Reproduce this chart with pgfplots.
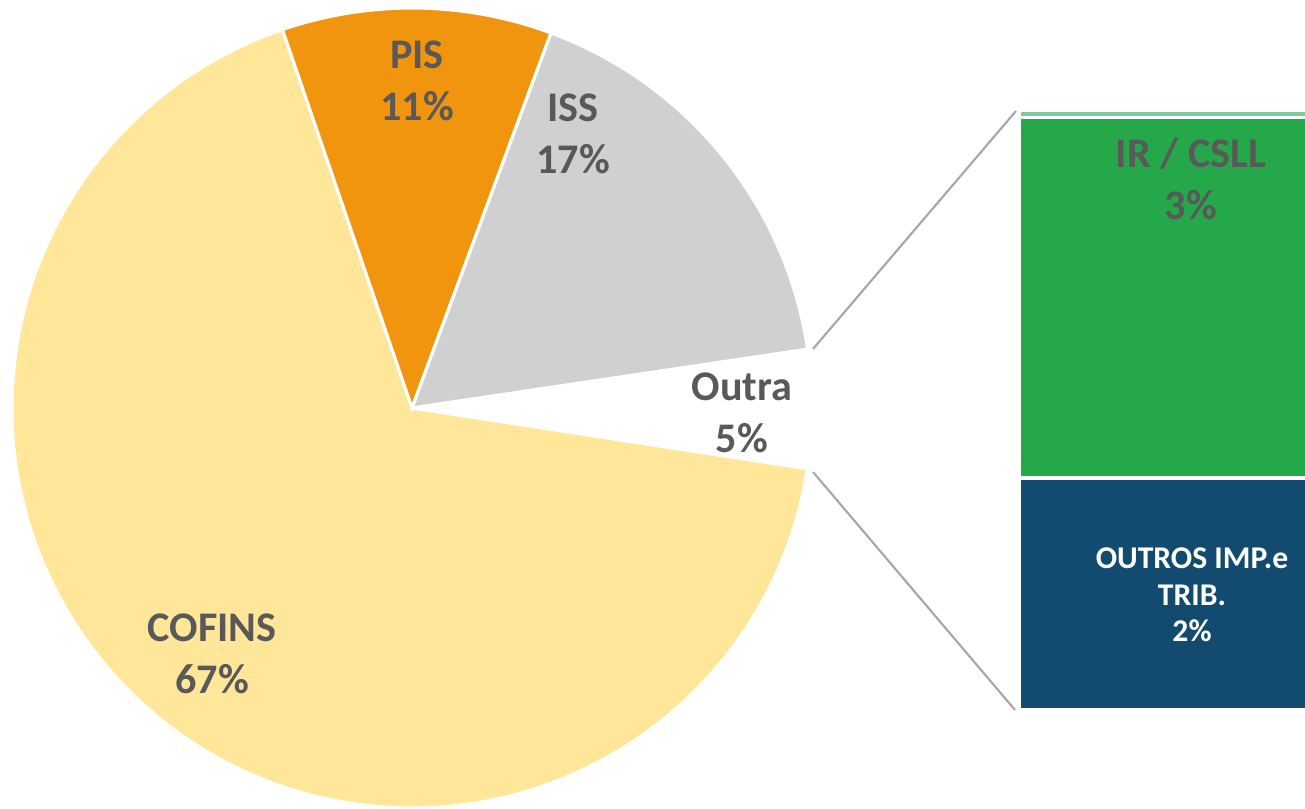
\documentclass[border=0pt]{standalone}
\usepackage{pgfplots}
\pgfplotsset{compat=1.18}
\usepackage{pgfplotstable}
\usepackage{fontspec}
\setmainfont{Carlito}

\definecolor{cofins}{HTML}{FFE699}
\definecolor{pis}{HTML}{F2950E}
\definecolor{iss}{HTML}{D0D0D0}
\definecolor{irbar}{HTML}{25A84A}
\definecolor{obar}{HTML}{134B70}
\definecolor{tinybar}{HTML}{7ECB9C}
\definecolor{labgray}{HTML}{595959}
\definecolor{conn}{HTML}{A6A6A6}

\tikzset{lab/.style={align=center, text=labgray, font=\fontsize{12}{14.6}\selectfont\bfseries}}

% pie shares (%)
\pgfplotstableread{
label share
PIS 10.9
ISS 17.0
Outra 4.78
COFINS 67.32
}\piedata

% breakdown of "Outra" (%), stacked bottom to top
\pgfplotstableread{
x outros ircsll tiny
0.56 1.85 2.87 0.06
}\bardata

\begin{document}
\begin{tikzpicture}
\pgfplotstablegetelem{0}{share}\of\piedata \let\sPIS\pgfplotsretval
\pgfplotstablegetelem{1}{share}\of\piedata \let\sISS\pgfplotsretval
\pgfplotstablegetelem{2}{share}\of\piedata \let\sOUT\pgfplotsretval
\pgfmathsetmacro\aA{108.9}
\pgfmathsetmacro\aB{\aA-3.6*\sPIS}
\pgfmathsetmacro\aC{\aB-3.6*\sISS}
\pgfmathsetmacro\aD{\aC-3.6*\sOUT}
\pgfmathsetmacro\aE{\aA-360}

% bar of pie
\begin{axis}[
    at={(10.19cm,0.99cm)}, anchor=south west,
    scale only axis, width=2.86cm, height=6.0cm,
    xmin=0, xmax=1, ymin=0, ymax=4.78,
    hide axis, ybar stacked, bar width=3.2cm,
]
    \addplot[fill=obar, draw=white, line width=1.1pt] table[x=x, y=outros] {\bardata};
    \addplot[fill=irbar, draw=white, line width=1.1pt] table[x=x, y=ircsll] {\bardata};
    \addplot[fill=tinybar, draw=white, line width=1.1pt] table[x=x, y=tiny] {\bardata};
\end{axis}

% pie, connectors and labels (axis units = pixels)
\begin{axis}[
    at={(0,0)}, anchor=south west,
    scale only axis, width=13.05cm, height=8.09cm,
    xmin=0, xmax=1305, ymin=0, ymax=809,
    hide axis, clip=false,
]
    \coordinate (O) at (axis cs:412,401);
    \filldraw[fill=cofins, draw=white, line width=0.9pt] (O) -- ++(\aD:4cm) arc[start angle=\aD, end angle=\aE, radius=4cm] -- cycle;
    \filldraw[fill=pis, draw=white, line width=0.9pt] (O) -- ++(\aA:4cm) arc[start angle=\aA, end angle=\aB, radius=4cm] -- cycle;
    \filldraw[fill=iss, draw=white, line width=0.9pt] (O) -- ++(\aB:4cm) arc[start angle=\aB, end angle=\aC, radius=4cm] -- cycle;

    \draw[conn, line width=0.6pt] (axis cs:813,460) -- (axis cs:1016,698);
    \draw[conn, line width=0.6pt] (axis cs:813,337) -- (axis cs:1015,99);

    \node[lab] at (axis cs:417,728) {PIS\\11\%};
    \node[lab] at (axis cs:573,675) {ISS\\17\%};
    \node[lab] at (axis cs:742,396) {Outra\\5\%};
    \node[lab] at (axis cs:212,155) {COFINS\\67\%};
    \node[lab] at (axis cs:1191,630) {IR / CSLL\\3\%};
    \node[align=center, text=white, font=\fontsize{9}{10.4}\selectfont\bfseries] at (axis cs:1192,214) {OUTROS IMP.e\\TRIB.\\2\%};
\end{axis}
\pgfresetboundingbox
\path[use as bounding box] (0,0) rectangle (13.05cm,8.09cm);
\end{tikzpicture}
\end{document}
